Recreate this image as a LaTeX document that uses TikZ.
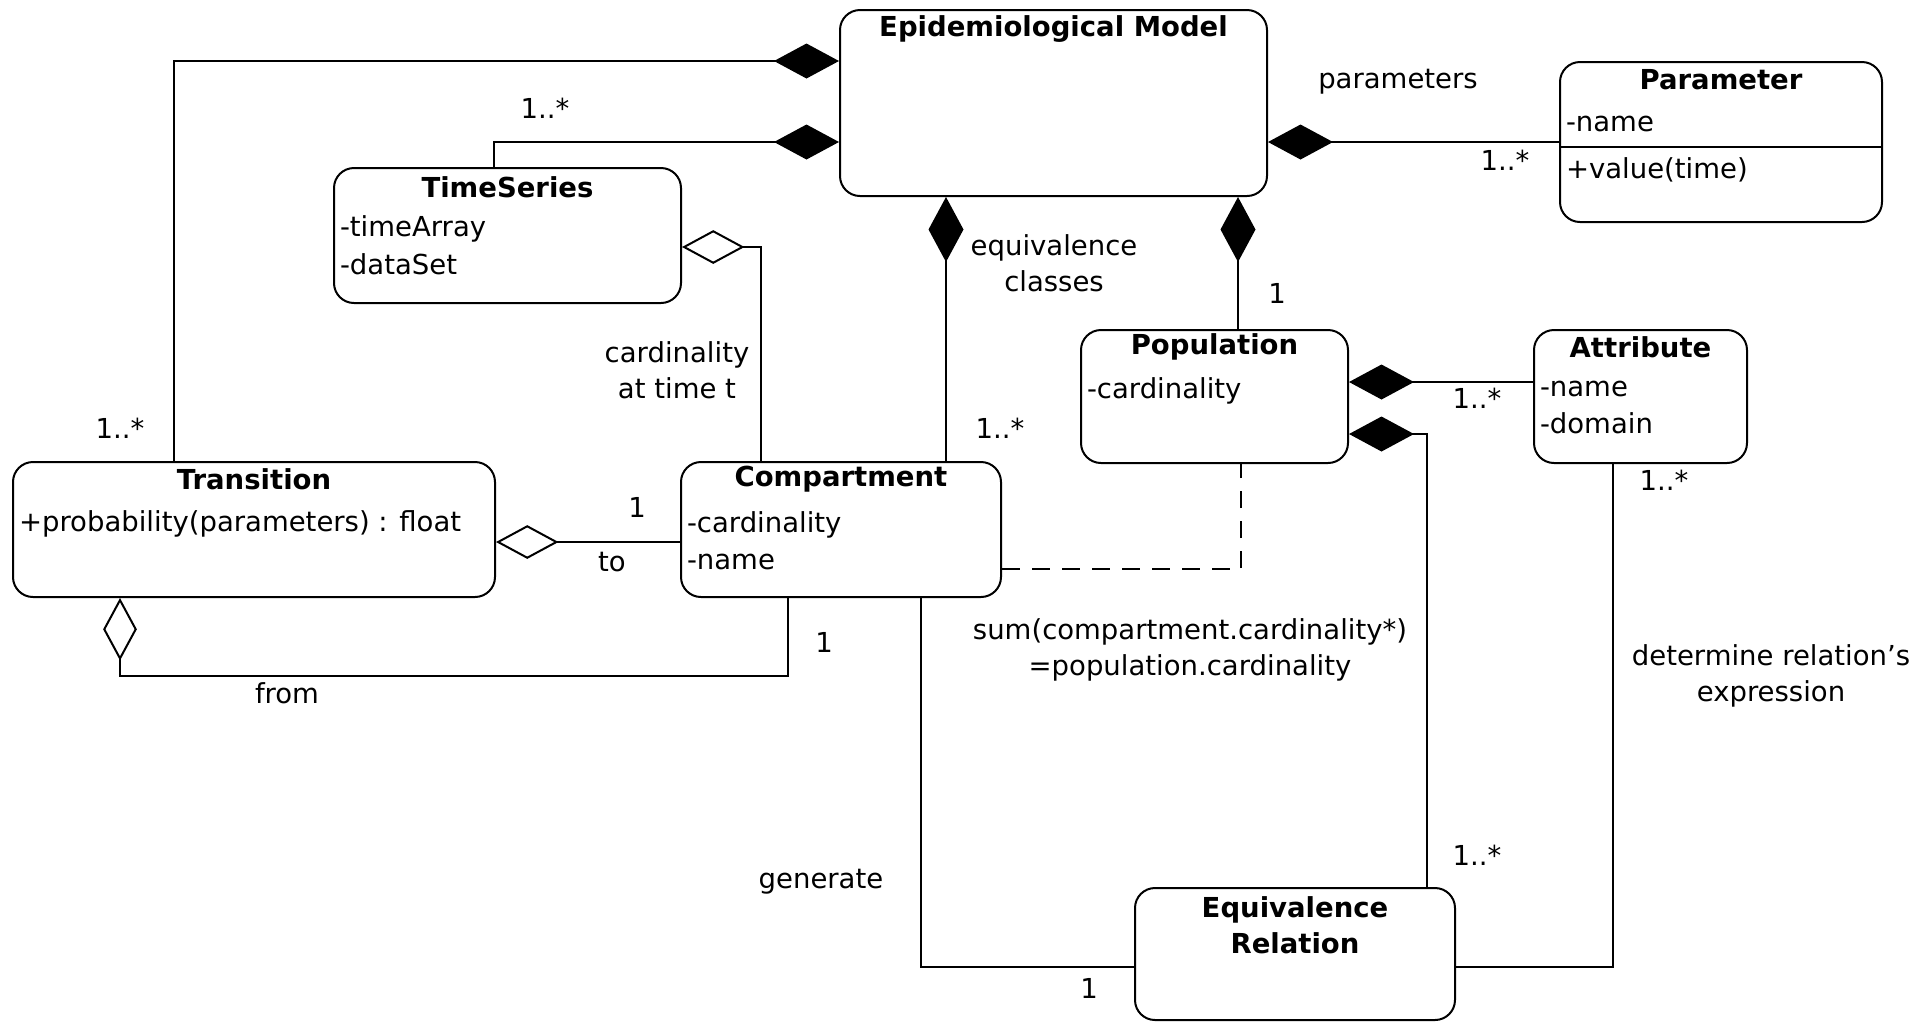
\documentclass[tikz,border=0pt]{standalone}
\usepackage{fontspec}
\setmainfont{DejaVu Sans}
\usetikzlibrary{arrows.meta,positioning,calc}

\begin{document}
\begin{tikzpicture}[
    x = 0.4pt, y = -0.4pt,
    font = \fontsize{11}{14.5}\selectfont,
    line width = 0.8pt,
    umlclass/.style 2 args = {draw, rounded corners = 8pt, inner sep = 0pt,
        minimum width = #1*0.4pt, minimum height = #2*0.4pt},
    classname/.style = {font = \fontsize{11}{14.5}\selectfont\bfseries, inner sep = 0pt, align = center},
    member/.style = {anchor = west, inner sep = 0pt, text height = 8pt, text depth = 2pt},
    note/.style = {inner sep = 0pt, align = center},
    compo/.style = {{Diamond[length = 26pt, width = 14pt]}-},
    aggr/.style = {{Diamond[open, length = 25pt, width = 13.5pt]}-}]

\useasboundingbox (0,0) rectangle (1921,1023);

% classes
\node[umlclass={427}{186}] (epi) at (1053.5,103) {};
\node[classname] (epiname) at ($(epi.north)+(0,20)$) {Epidemiological Model};

\node[umlclass={322}{160}] (param) at (1721,142) {};
\node[classname] (paramname) at ($(param.north)+(0,19)$) {Parameter};
\node[member] (paramname1) at ($(param.north west)+(6,63)$) {-name};
\node[member] (paramop1) at ($(param.north west)+(6,110)$) {+value(time)};
\draw ($(param.north west)+(0,86)$) -- ($(param.north east)+(0,86)$);

\node[umlclass={347}{135}] (ts) at (507.5,235.5) {};
\node[classname] (tsname) at ($(ts.north)+(0,20)$) {TimeSeries};
\node[member] (ts1) at ($(ts.north west)+(6,62)$) {-timeArray};
\node[member] (ts2) at ($(ts.north west)+(6,100)$) {-dataSet};

\node[umlclass={482}{135}] (trans) at (254,529.5) {};
\node[classname] (transname) at ($(trans.north)+(0,18)$) {Transition};
\node[member] (transop1) at ($(trans.north west)+(6,63)$) {+probability(parameters) : float};

\node[umlclass={320}{135}] (comp) at (841,529.5) {};
\node[classname] (compname) at ($(comp.north)+(0,18)$) {Compartment};
\node[member] (comp1) at ($(comp.north west)+(6,64)$) {-cardinality};
\node[member] (comp2) at ($(comp.north west)+(6,101)$) {-name};

\node[umlclass={267}{133}] (pop) at (1214.5,396.5) {};
\node[classname] (popname) at ($(pop.north)+(0,18)$) {Population};
\node[member] (pop1) at ($(pop.north west)+(6,62)$) {-cardinality};

\node[umlclass={213}{133}] (attr) at (1640.5,396.5) {};
\node[classname] (attrname) at ($(attr.north)+(0,18)$) {Attribute};
\node[member] (attr1) at ($(attr.north west)+(6,60)$) {-name};
\node[member] (attr2) at ($(attr.north west)+(6,97)$) {-domain};

\node[umlclass={320}{132}] (eqrel) at (1295,954) {};
\node[classname] (eqrelname) at ($(eqrel.north)+(0,38)$) {Equivalence\\Relation};

% associations
\draw[compo] ($(epi.north west)+(0,52)$) -| ($(trans.north west)+(162,0)$);
\draw[compo] ($(epi.north west)+(0,133)$) -| ($(ts.north west)+(161,0)$);
\draw[aggr] ($(ts.north east)+(0,80)$) -| ($(comp.north west)+(81,0)$);
\coordinate (eqcls) at ($(epi.south west)+(107,0)$);
\draw[compo] (eqcls) -- (eqcls |- comp.north);
\coordinate (popof) at ($(epi.south west)+(399,0)$);
\draw[compo] (popof) -- (popof |- pop.north);
\coordinate (params) at ($(epi.north east)+(0,133)$);
\draw[compo] (params) -- (params -| param.west);
\coordinate (attrs) at ($(pop.north east)+(0,53)$);
\draw[compo] (attrs) -- (attrs -| attr.west);
\draw[compo] ($(pop.north east)+(0,105)$) -| ($(eqrel.north west)+(293,0)$);
\draw ($(attr.south west)+(80,0)$) |- ($(eqrel.north east)+(0,80)$);
\draw ($(comp.south west)+(241,0)$) |- ($(eqrel.north west)+(0,80)$);
\draw[dash pattern = on 7pt off 5pt] ($(comp.north east)+(0,108)$) -| ($(pop.south west)+(161,0)$);
\coordinate (toc) at ($(trans.north east)+(0,81)$);
\draw[aggr] (toc) -- (toc -| comp.west);
\draw[aggr] ($(trans.south west)+(108,0)$) -- ++(0,78) -| ($(comp.south west)+(108,0)$);

% labels
\node[note] (m1) at (120,428) {1..*};
\node[note] (m2) at (545,108) {1..*};
\node[note] (cardt) at (677,370) {cardinality\\at time t};
\node[note] (eqclasses) at (1054,263) {equivalence\\classes};
\node[note] (m3) at (1000,428) {1..*};
\node[note] (m4) at (1277,293) {1};
\node[note] (paramlbl) at (1398,82) {parameters};
\node[note] (m5) at (1505,160) {1..*};
\node[note] (m6) at (1477,398) {1..*};
\node[note] (m7) at (1477,855) {1..*};
\node[note] (m8) at (1664,480) {1..*};
\node[note] (detlbl) at (1771,676) {determine relation's\\expression};
\node[note] (m9) at (1089,988) {1};
\node[note] (genlbl) at (821,882) {generate};
\node[note] (sumlbl) at (1190,650) {sum(compartment.cardinality*)\\=population.cardinality};
\node[note] (m10) at (637,507) {1};
\node[note] (tolbl) at (612,562) {to};
\node[note] (m11) at (824,642) {1};
\node[note] (fromlbl) at (287,693) {from};
\end{tikzpicture}
\end{document}
